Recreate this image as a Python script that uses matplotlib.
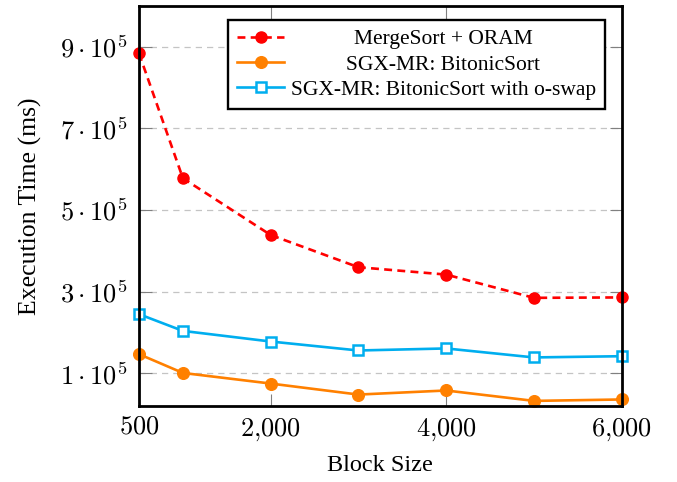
import matplotlib
matplotlib.use("Agg")
import matplotlib.pyplot as plt
import matplotlib.transforms as mtransforms
from matplotlib.ticker import FixedLocator, FuncFormatter

plt.rcParams["font.family"] = ["Liberation Serif", "DejaVu Serif"]
plt.rcParams["mathtext.fontset"] = "cm"

block_sizes = [500, 1000, 2000, 3000, 4000, 5000, 6000]
mergesort_oram = [8.84e5, 5.78e5, 4.39e5, 3.60e5, 3.42e5, 2.85e5, 2.86e5]
bitonic = [1.47e5, 1.01e5, 0.75e5, 0.48e5, 0.58e5, 0.325e5, 0.36e5]
bitonic_oswap = [2.45e5, 2.04e5, 1.78e5, 1.56e5, 1.61e5, 1.39e5, 1.42e5]

x_ticks = [500, 2000, 4000, 6000]
y_ticks = [1e5, 3e5, 5e5, 7e5, 9e5]

fig = plt.figure(figsize=(6.77, 4.82), dpi=100)
ax = fig.add_axes([139 / 677, 1 - 406 / 482, 482.7 / 677, 400 / 482])

ax.plot(block_sizes, mergesort_oram, color="#ff0000", linestyle=(0, (3, 2)),
        linewidth=1.9, marker="o", markersize=8, clip_on=False,
        label="MergeSort + ORAM")
ax.plot(block_sizes, bitonic, color="#ff8000", linewidth=1.9,
        marker="o", markersize=8.4, clip_on=False,
        label="SGX-MR: BitonicSort")
ax.plot(block_sizes, bitonic_oswap, color="#00aeef", linewidth=1.9,
        marker="s", markersize=6.8, markerfacecolor="white",
        markeredgewidth=1.8, clip_on=False,
        label="SGX-MR: BitonicSort with o-swap")

ax.set_xlim(500, 6000)
ax.set_ylim(0.2e5, 10e5)

ax.xaxis.set_major_locator(FixedLocator(x_ticks))
ax.yaxis.set_major_locator(FixedLocator(y_ticks))
ax.xaxis.set_major_formatter(FuncFormatter(
    lambda v, p: r"$%s$" % f"{int(v):,}".replace(",", "{,}")))
ax.yaxis.set_major_formatter(FuncFormatter(
    lambda v, p: r"$%d \cdot 10^{5}$" % round(v / 1e5)))

ax.tick_params(axis="both", which="major", direction="in", length=9,
               width=0.8, color="#808080", labelsize=19,
               top=True, right=True)
ax.tick_params(axis="x", pad=7.5)
ax.tick_params(axis="y", pad=8)

ax.grid(axis="y", linestyle=(0, (5, 4)), color="#c4c4c4", linewidth=0.9)
ax.set_axisbelow(True)

for spine in ax.spines.values():
    spine.set_linewidth(2.0)
    spine.set_color("black")

ax.set_xlabel("Block Size", fontsize=17.5, labelpad=9)
ax.set_ylabel("Execution Time (ms)", fontsize=18.5, labelpad=13)

leg = ax.legend(loc="upper right",
                bbox_to_anchor=(1 - 16.7 / 482.7, 1 - 14 / 400),
                borderaxespad=0, fancybox=False, edgecolor="black",
                framealpha=1, fontsize=15.5, handlelength=2.2,
                handletextpad=0.3, labelspacing=0.25, borderpad=0.42)
leg.get_frame().set_linewidth(1.7)

# pgfplots centres the legend text, so shift the shorter entries
fig.canvas.draw()
renderer = fig.canvas.get_renderer()
widths = [t.get_window_extent(renderer).width for t in leg.get_texts()]
max_w = max(widths)
for t, w in zip(leg.get_texts(), widths):
    dx = (max_w - w) / 2
    t.set_transform(t.get_transform() + mtransforms.Affine2D().translate(dx, 0))

fig.savefig("out.png", dpi=100)
